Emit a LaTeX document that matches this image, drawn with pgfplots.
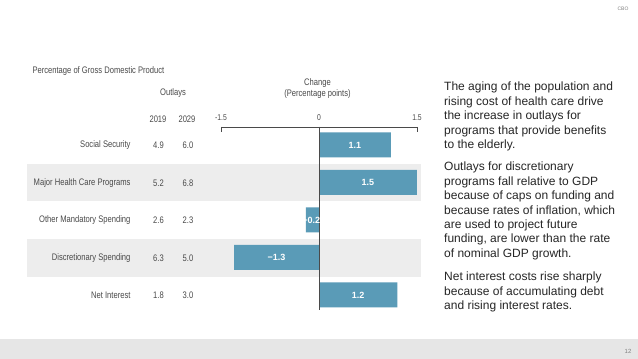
\documentclass[border=0pt]{standalone}
\usepackage{fontspec}
\setmainfont{Liberation Sans}
\newfontfamily\cond[FakeStretch=0.8]{Liberation Sans}
\usepackage{pgfplots}
\pgfplotsset{compat=1.18}
\definecolor{barblue}{HTML}{5A9BB7}
\definecolor{band}{HTML}{EDEDED}
\definecolor{lab}{HTML}{4A4A4A}
\definecolor{foot}{HTML}{E6E6E6}
\begin{document}
\begin{tikzpicture}[x=1pt,y=1pt]
\fill[white] (0,0) rectangle (638,359);
% bottom strip
\fill[foot] (0,0) rectangle (638,20);
\node[font=\fontsize{5}{6}\selectfont, text=gray] at (623,350) {CBO};
\node[font=\fontsize{6}{7}\selectfont, text=gray] at (628,8) {12};
% bands
\fill[band] (27,158) rectangle (421,195);
\fill[band] (27,82) rectangle (421,120);
% headers
\begin{scope}[font=\cond\fontsize{9.5}{11}\selectfont, text=lab]
\node[anchor=base west] at (29,285) {Percentage of Gross Domestic Product};
\node at (173,266) {Outlays};
\node at (158,240) {2019};
\node at (187,240) {2029};
\node at (317.5,276) {Change};
\node at (317.5,265) {(Percentage points)};
\node[anchor=east] at (134,214) {Social Security};
\node[anchor=east] at (134,176) {Major Health Care Programs};
\node[anchor=east] at (134,139) {Other Mandatory Spending};
\node[anchor=east] at (134,101) {Discretionary Spending};
\node[anchor=east] at (134,64) {Net Interest};
\node at (158.5,214) {4.9}; \node at (188,214) {6.0};
\node at (158.5,176) {5.2}; \node at (188,176) {6.8};
\node at (158.5,139) {2.6}; \node at (188,139) {2.3};
\node at (158.5,101) {6.3}; \node at (188,101) {5.0};
\node at (158.5,64) {1.8}; \node at (188,64) {3.0};
\end{scope}
\begin{axis}[
  at={(221pt,49pt)}, anchor=south west,
  scale only axis, width=196pt, height=183pt,
  xmin=-1.5, xmax=1.5, ymin=0.6, ymax=5.48,
  clip=false,
  axis x line*=top, axis y line=none,
  x axis line style={-, draw=lab, line width=0.6pt},
  xtick={-1.5,0,1.5}, xticklabels={-1.5,0,1.5},
  tick align=inside, major tick length=5pt,
  xtick style={draw=lab, line width=0.6pt},
  ticklabel style={font=\cond\fontsize{8.5}{10}\selectfont, text=lab},
  xticklabel shift=3pt,
  ytick=\empty,
  /pgf/number format/assume math mode=true,
]
\addplot[xbar, bar width=25pt, fill=barblue, draw=none] coordinates {
  (1.1,5) (1.5,4) (-0.2,3) (-1.3,2) (1.2,1)};
\addplot[draw=none, mark=none, nodes near coords, point meta=explicit symbolic,
  nodes near coords style={anchor=center, font=\bfseries\fontsize{9}{10}\selectfont, text=white}]
  coordinates {(0.55,5) [1.1] (0.75,4) [1.5] (-0.12,3) [−0.2] (-0.65,2) [−1.3] (0.6,1) [1.2]};
\draw[lab, line width=0.6pt] (axis cs:0,5.48) -- (axis cs:0,0.6);
\end{axis}
% right text
\begin{scope}[font=\fontsize{12}{14.4}\selectfont, text=black!85, every node/.style={anchor=base west, inner sep=0pt}]
\node at (444,268) {The aging of the population and};
\node at (444,253.6) {rising cost of health care drive};
\node at (444,239.2) {the increase in outlays for};
\node at (444,224.8) {programs that provide benefits};
\node at (444,210.4) {to the elderly.};
\node at (444,188) {Outlays for discretionary};
\node at (444,173.6) {programs fall relative to GDP};
\node at (444,159.2) {because of caps on funding and};
\node at (444,144.8) {because rates of inflation, which};
\node at (444,130.4) {are used to project future};
\node at (444,116) {funding, are lower than the rate};
\node at (444,101.6) {of nominal GDP growth.};
\node at (444,78) {Net interest costs rise sharply};
\node at (444,63.6) {because of accumulating debt};
\node at (444,49.2) {and rising interest rates.};
\end{scope}
\end{tikzpicture}
\end{document}
